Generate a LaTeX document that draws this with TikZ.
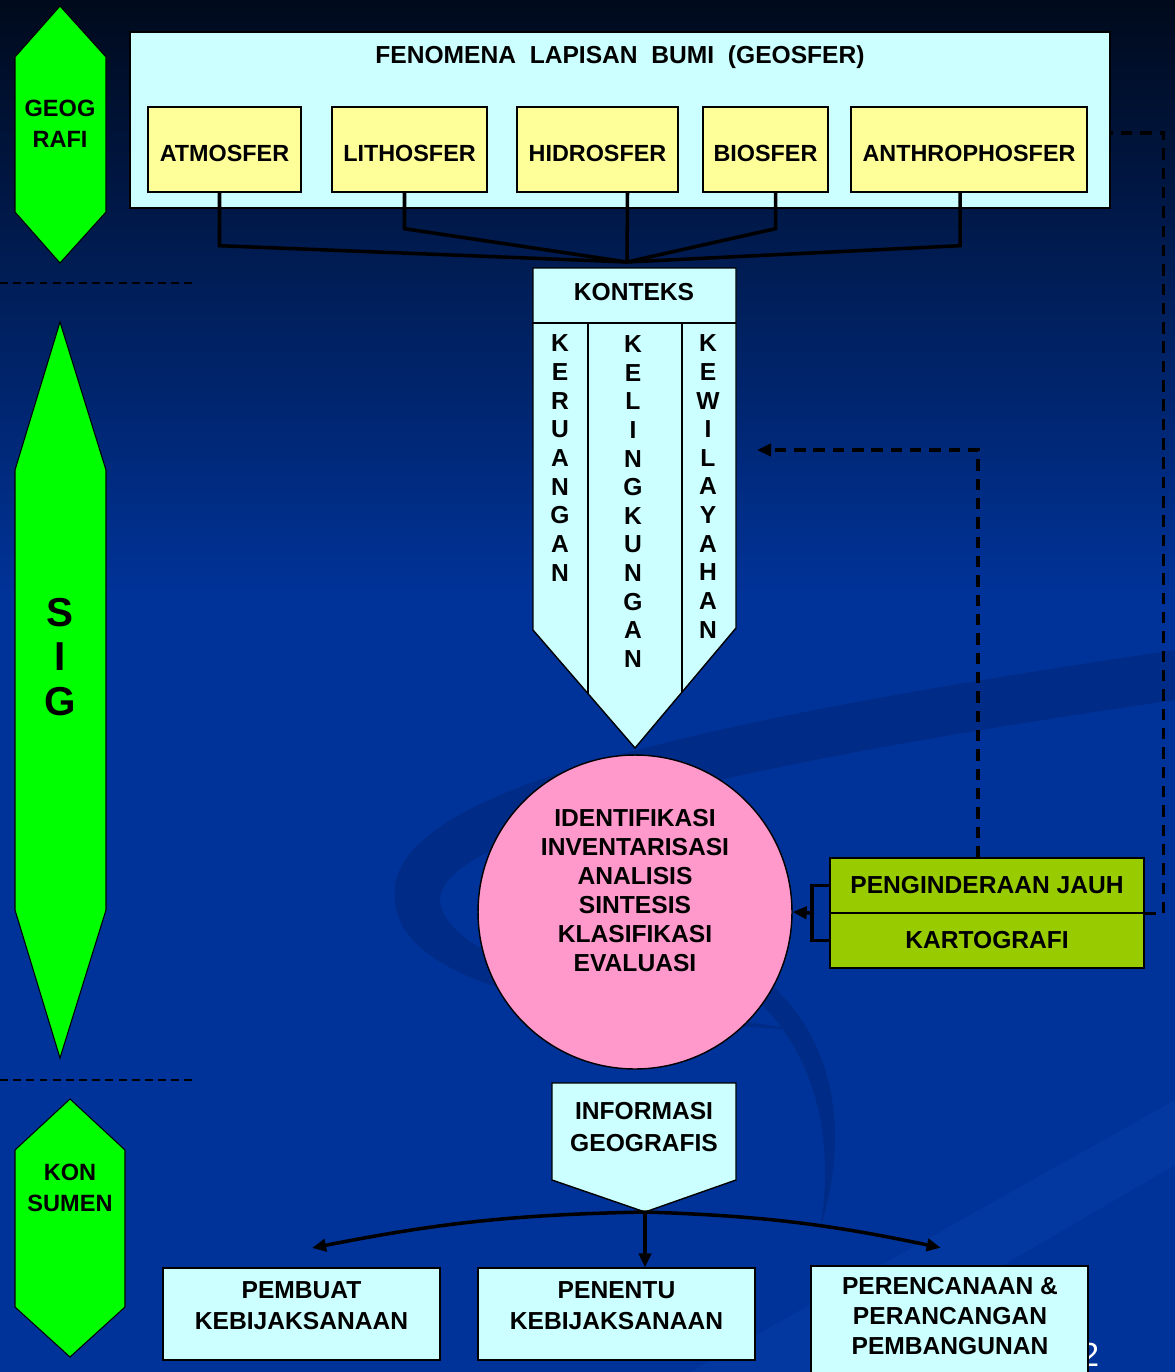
\documentclass[tikz,border=0pt]{standalone}
\usepackage{fontspec}
\setmainfont{Liberation Sans}
\usepackage{xcolor}
\usepackage{tikz}
\usetikzlibrary{arrows.meta,positioning}

\definecolor{bgtop}{HTML}{000A1C}
\definecolor{bgblue}{HTML}{003399}
\definecolor{swoosh}{HTML}{002C88}
\definecolor{shine}{HTML}{0238A0}
\definecolor{hexgreen}{HTML}{00FF00}
\definecolor{lime}{HTML}{99CC00}
\definecolor{paleblue}{HTML}{CCFFFF}
\definecolor{paleyellow}{HTML}{FFFF99}
\definecolor{rose}{HTML}{FF99CC}

\begin{document}
\begin{tikzpicture}[x=0.02cm, y=-0.02cm,
    lbl/.style={font=\fontsize{14}{16.4}\selectfont\bfseries, align=center, inner sep=0pt},
    sphere/.style={draw=black, line width=0.8pt, fill=paleyellow, minimum height=1.7cm,
      inner sep=0pt, text height=14pt, font=\fontsize{13.3}{16}\selectfont\bfseries},
    panel/.style={draw=black, line width=0.8pt, fill=paleblue, inner sep=0pt},
    tool/.style={draw=black, line width=0.8pt, fill=lime, minimum width=6.28cm,
      minimum height=1.1cm, inner sep=0pt, font=\fontsize{14}{16}\selectfont\bfseries},
    hexa/.style={draw=black, line width=0.6pt, fill=hexgreen},
    wire/.style={line width=2pt},
    arrowed/.style={-{Triangle[length=8pt,width=7pt]}},
    dashline/.style={line width=2pt, dash pattern=on 6.5pt off 4.5pt},
    zone/.style={line width=0.8pt, dash pattern=on 4.5pt off 3pt}]

  % background
  \useasboundingbox (0,0) rectangle (1175,1372);
  \fill[bgblue] (0,0) rectangle (1175,1372);
  \shade[top color=bgtop, bottom color=bgblue] (0,0) rectangle (1175,600);
  \fill[swoosh] (395,900) .. controls (380,790) and (700,720) .. (1175,650)
    -- (1175,700) .. controls (760,760) and (440,830) .. (440,900)
    .. controls (445,960) and (600,1000) .. (800,1030)
    .. controls (600,1020) and (400,990) .. (395,900) -- cycle;
  \fill[swoosh] (700,940) .. controls (820,990) and (860,1100) .. (820,1230)
    .. controls (840,1110) and (800,1010) .. (700,960) -- cycle;
  \fill[shine] (690,1372) -- (1175,1100) -- (1175,1165) -- (820,1372) -- cycle;

  % slide number
  \node[text=white, font=\fontsize{19}{19}\selectfont, inner sep=0pt] (num) at (1090,1355) {2};

  % left zones
  \draw[hexa] (60,6) -- (106,57) -- (106,212) -- (60,263) -- (15,212) -- (15,57) -- cycle;
  \node[lbl, font=\fontsize{13.4}{17.6}\selectfont\bfseries] (geo) at (60,123.5) {GEOG\\RAFI};
  \draw[zone] (0,283) -- (195,283);
  \draw[hexa] (60,322) -- (106,470) -- (106,910) -- (60,1058) -- (15,910) -- (15,470) -- cycle;
  \node[lbl, font=\fontsize{23}{25.5}\selectfont\bfseries] (sig) at (60,657) {S\\I\\G};
  \draw[zone] (0,1080) -- (195,1080);
  \draw[hexa] (70,1099) -- (125,1150) -- (125,1307) -- (70,1357) -- (15,1307) -- (15,1150) -- cycle;
  \node[lbl, font=\fontsize{13.4}{18}\selectfont\bfseries] (kon) at (70,1188) {KON\\SUMEN};

  % geosphere panel
  \node[panel, minimum width=19.6cm, minimum height=3.52cm] (fen) at (620,120) {};
  \node[lbl] (fentitle) at (620,57) {FENOMENA\ \ LAPISAN\ \ BUMI\ \ (GEOSFER)};
  \node[sphere, minimum width=3.06cm] (atm) at (224.5,149.5) {ATMOSFER};
  \node[sphere, minimum width=3.1cm] (lith) at (409.5,149.5) {LITHOSFER};
  \node[sphere, minimum width=3.22cm] (hid) at (597.5,149.5) {HIDROSFER};
  \node[sphere, minimum width=2.5cm] (bio) at (765.5,149.5) {BIOSFER};
  \node[sphere, minimum width=4.72cm] (anth) at (969,149.5) {ANTHROPHOSFER};

  % konteks banner
  \coordinate (join) at (627,262);
  \coordinate (ktip) at (635,748);
  \draw[panel] (533,268) -- (736,268) -- (736,628) -- (ktip) -- (533,630) -- cycle;
  \draw[line width=0.8pt] (533,323) -- (736,323);
  \draw[line width=0.8pt] (588,323) -- (588,694);
  \draw[line width=0.8pt] (682,323) -- (682,692);
  \node[lbl] (ktx) at (634,292) {KONTEKS};
  \node[lbl, font=\fontsize{14}{16.3}\selectfont\bfseries] (kru) at (560,458) {K\\E\\R\\U\\A\\N\\G\\A\\N};
  \node[lbl, font=\fontsize{14}{16.3}\selectfont\bfseries] (kli) at (633,501.5) {K\\E\\L\\I\\N\\G\\K\\U\\N\\G\\A\\N};
  \node[lbl, font=\fontsize{14}{16.3}\selectfont\bfseries] (kwi) at (708,486.5) {K\\E\\W\\I\\L\\A\\Y\\A\\H\\A\\N};

  % from the spheres to konteks
  \draw[wire] (atm.south) ++(-5,0) -- ++(0,53) -- (join);
  \draw[wire] (lith.south) ++(-5,0) -- ++(0,36) -- (join);
  \draw[wire] (hid.south) ++(30,0) -- (join);
  \draw[wire] (bio.south) ++(10,0) -- ++(0,36) -- (join);
  \draw[wire] (anth.south) ++(-9,0) -- ++(0,53) -- (join);

  % process circle
  \node[circle, draw=black, line width=0.8pt, fill=rose, minimum size=6.28cm, inner sep=0pt] (proc) at (635,912) {};
  \node[lbl] (steps) at (635,890.5) {IDENTIFIKASI\\INVENTARISASI\\ANALISIS\\SINTESIS\\KLASIFIKASI\\EVALUASI};

  % tools
  \node[tool] (rs) at (987,885.5) {PENGINDERAAN JAUH};
  \node[tool] (kart) at (987,940.5) {KARTOGRAFI};
  \coordinate (brk) at (812,913);
  \draw[wire] (rs.west) -| (brk) |- (kart.west);
  \draw[wire, arrowed] (brk) -- (proc.east);
  \coordinate (kin) at (757,450);
  \draw[dashline, arrowed] (rs.north) ++(-9,0) |- (kin);
  \coordinate (fin) at (1110,133);
  \draw[dashline] (rs.south east) -- ++(19,0) |- (fin);

  % information banner
  \coordinate (itip) at (645,1212);
  \draw[panel] (552,1083) -- (736,1083) -- (736,1180) -- (itip) -- (552,1180) -- cycle;
  \node[lbl, font=\fontsize{14}{18.7}\selectfont\bfseries] (info) at (644,1127) {INFORMASI\\GEOGRAFIS};

  % consumers
  \node[panel, minimum width=5.54cm, minimum height=1.84cm] (pem) at (301.5,1314) {};
  \node[lbl, font=\fontsize{14}{17.6}\selectfont\bfseries] (pemtx) at ([yshift=4.5pt]pem.center) {PEMBUAT\\KEBIJAKSANAAN};
  \node[panel, minimum width=5.54cm, minimum height=1.84cm] (pen) at (616.5,1314) {};
  \node[lbl, font=\fontsize{14}{17.6}\selectfont\bfseries] (pentx) at ([yshift=4.5pt]pen.center) {PENENTU\\KEBIJAKSANAAN};
  \node[panel, minimum width=5.54cm, minimum height=2.4cm] (per) at (949.5,1326) {};
  \node[lbl, font=\fontsize{14}{17}\selectfont\bfseries] (pertx) at (950,1316) {PERENCANAAN \&\\PERANCANGAN\\PEMBANGUNAN};

  % from information to consumers
  \draw[wire, arrowed] (itip) to[bend right=5] ([xshift=6pt,yshift=11pt]pem.north);
  \draw[wire, arrowed] (itip) -- (itip |- pen.north);
  \draw[wire, arrowed] (itip) to[bend left=5] ([xshift=-5pt,yshift=10pt]per.north);
\end{tikzpicture}
\end{document}
